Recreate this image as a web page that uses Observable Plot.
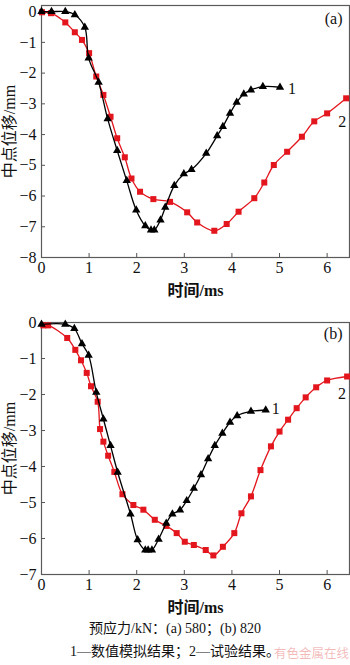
<!DOCTYPE html>
<html><head><meta charset="utf-8">
<script src="https://cdn.jsdelivr.net/npm/d3@7"></script>
<script src="https://cdn.jsdelivr.net/npm/@observablehq/plot@0.6"></script>
<style>
body{margin:0;background:#fff;}
#wrap{position:relative;width:350px;height:665px;overflow:hidden;background:#fff;font-family:"Liberation Serif","Noto Sans CJK SC",serif;color:#111;}
#wrap svg text{font-family:"Liberation Serif","Noto Sans CJK SC",serif;}
.panel{position:absolute;left:0;}
.cap{position:absolute;left:0;width:350px;text-align:center;font-size:14px;line-height:18px;white-space:nowrap;font-family:"Liberation Serif","Noto Sans CJK SC",serif;color:#111;}
.wm{position:absolute;right:1px;top:645px;font-size:12.5px;line-height:16px;color:rgba(225,70,70,0.38);font-family:"Noto Sans CJK SC",sans-serif;}
</style></head><body><div id="wrap"></div>
<script>
// ---- tick labels ----
const timeTicks = [0, 1, 2, 3, 4, 5, 6];
const dispTicksA = [0, -1, -2, -3, -4, -5, -6, -7, -8];
const dispTicksB = [0, -1, -2, -3, -4, -5, -6, -7];
const panelLabels = ["(a)", "(b)"];
const seriesLabels = ["1", "2"];
const xLabel = "时间/ms";
const yLabel = "中点位移/mm";
const captionLine1 = "预应力/kN：(a) 580；(b) 820";
const captionLine2 = "1—数值模拟结果；2—试验结果。";
const watermark = "有色金属在线";

// ---- (a) prestress 580 kN ----
const simTimeA = [0, 0.21, 0.50, 0.70, 0.91, 0.99, 1.20, 1.39, 1.59, 1.79, 1.99, 2.18, 2.30, 2.37, 2.50, 2.60, 2.79, 2.99, 3.15, 3.46, 3.69, 3.81, 3.96, 4.10, 4.25, 4.40, 4.65, 5.01];
const simDispA = [0, 0, 0, -0.10, -0.51, -1.51, -2.30, -3.49, -4.52, -5.50, -6.46, -6.97, -7.11, -7.11, -6.78, -6.37, -5.66, -5.28, -5.14, -4.61, -4.04, -3.74, -3.31, -2.95, -2.68, -2.55, -2.44, -2.46];
const expTimeA = [0.01, 0.20, 0.50, 0.70, 0.85, 1.00, 1.15, 1.30, 1.45, 1.59, 1.75, 1.89, 2.07, 2.35, 2.70, 3.06, 3.27, 3.63, 3.89, 4.14, 4.47, 4.68, 4.88, 5.16, 5.47, 5.73, 6.00, 6.40];
const expDispA = [-0.02, -0.05, -0.35, -0.67, -0.92, -1.35, -2.11, -2.71, -3.42, -4.12, -4.74, -5.43, -5.86, -6.10, -6.19, -6.53, -6.86, -7.13, -6.91, -6.51, -6.07, -5.56, -4.99, -4.56, -4.07, -3.57, -3.31, -2.82];

// ---- (b) prestress 820 kN ----
const simTimeB = [0, 0.50, 0.69, 0.85, 0.99, 1.15, 1.30, 1.45, 1.60, 1.87, 2.02, 2.18, 2.24, 2.32, 2.46, 2.62, 2.75, 2.91, 3.05, 3.20, 3.35, 3.50, 3.64, 3.80, 3.96, 4.11, 4.40, 4.71];
const simDispB = [-0.05, -0.05, -0.17, -0.59, -0.91, -1.94, -2.68, -3.42, -4.16, -5.32, -6.04, -6.32, -6.32, -6.32, -6.02, -5.58, -5.32, -5.21, -4.95, -4.61, -4.23, -3.79, -3.42, -3.08, -2.77, -2.59, -2.47, -2.43];
const expTimeB = [0.04, 0.14, 0.54, 0.71, 0.83, 0.95, 1.04, 1.18, 1.23, 1.30, 1.40, 1.53, 1.70, 1.93, 2.14, 2.38, 2.62, 2.84, 3.01, 3.20, 3.45, 3.61, 3.81, 4.05, 4.20, 4.40, 4.60, 4.82, 5.00, 5.18, 5.36, 5.55, 5.77, 6.00, 6.42];
const expDispB = [-0.08, -0.08, -0.43, -0.76, -1.05, -1.40, -1.77, -2.20, -2.96, -3.31, -3.70, -4.15, -4.77, -5.07, -5.20, -5.48, -5.65, -5.85, -6.09, -6.18, -6.32, -6.47, -6.23, -5.85, -5.30, -4.83, -4.10, -3.44, -3.03, -2.70, -2.38, -2.08, -1.80, -1.61, -1.50];

const RED = "#e3161e";
const BLACK = "#000";
const zip = (ts, vs) => ts.map((t, i) => ({t, v: vs[i]}));

function panel({sim, exp, yDomain, yTicks, label, height, marginTop, marginBottom, lab1, lab2, panelDy}) {
  const simLast = [sim[sim.length - 1]];
  const expLast = [exp[exp.length - 1]];
  return Plot.plot({
    width: 350, height, marginLeft: 41, marginRight: 1, marginTop, marginBottom,
    style: {fontSize: "16px", background: "transparent", color: "#111"},
    x: {domain: [0, 6.47]},
    y: {domain: yDomain},
    marks: [
      Plot.axisX(timeTicks, {anchor: "bottom", tickSize: -4, tickPadding: 8, fontSize: 16, stroke: "#555", label: null}),
      Plot.axisY(yTicks, {anchor: "left", tickSize: -4, tickPadding: 9, fontSize: 16, stroke: "#555", label: null}),
      Plot.frame({stroke: "#5a5a5a", strokeWidth: 1.2}),
      Plot.line(exp, {x: "t", y: "v", stroke: RED, strokeWidth: 1.3, curve: "catmull-rom"}),
      Plot.dot(exp, {x: "t", y: "v", symbol: "square", r: 3.4, fill: RED, stroke: "none"}),
      Plot.line(sim, {x: "t", y: "v", stroke: BLACK, strokeWidth: 1.3, curve: "catmull-rom"}),
      Plot.dot(sim, {x: "t", y: "v", symbol: "triangle", r: 3.1, fill: BLACK, stroke: "none"}),
      Plot.text(simLast, {x: "t", y: "v", text: () => seriesLabels[0], textAnchor: "start", dx: lab1.dx, dy: lab1.dy, fontSize: 16, fill: "#111"}),
      Plot.text(expLast, {x: "t", y: "v", text: () => seriesLabels[1], textAnchor: "middle", dx: lab2.dx, dy: lab2.dy, fontSize: 16, fill: "#111"}),
      Plot.text([label], {frameAnchor: "top-right", textAnchor: "end", lineAnchor: "top", dx: -7, dy: panelDy, fontSize: 16, fill: "#111"}),
      Plot.text([xLabel], {frameAnchor: "bottom", lineAnchor: "middle", dy: 33, fontSize: 16, fontWeight: "bold", fill: "#111"}),
      Plot.text([yLabel], {frameAnchor: "left", rotate: -90, lineAnchor: "middle", textAnchor: "middle", dx: -32, fontSize: 16, fill: "#111"})
    ]
  });
}

const wrap = document.getElementById("wrap");

const pa = panel({
  sim: zip(simTimeA, simDispA), exp: zip(expTimeA, expDispA),
  yDomain: [-8, 0.2], yTicks: dispTicksA, label: panelLabels[0],
  height: 300, marginTop: 5, marginBottom: 43,
  lab1: {dx: 8, dy: 2}, lab2: {dx: -4, dy: 24}, panelDy: 7
});
pa.classList.add("panel"); pa.style.top = "0px";
wrap.appendChild(pa);

const pb = panel({
  sim: zip(simTimeB, simDispB), exp: zip(expTimeB, expDispB),
  yDomain: [-7, 0], yTicks: dispTicksB, label: panelLabels[1],
  height: 320, marginTop: 22, marginBottom: 46,
  lab1: {dx: 6, dy: -1}, lab2: {dx: -5, dy: 17}, panelDy: 5
});
pb.classList.add("panel"); pb.style.top = "300px";
wrap.appendChild(pb);

const c1 = document.createElement("div"); c1.className = "cap"; c1.style.top = "620px"; c1.textContent = captionLine1; wrap.appendChild(c1);
const c2 = document.createElement("div"); c2.className = "cap"; c2.style.top = "643px"; c2.textContent = captionLine2; wrap.appendChild(c2);
const w = document.createElement("div"); w.className = "wm"; w.textContent = watermark; wrap.appendChild(w);
</script></body></html>
